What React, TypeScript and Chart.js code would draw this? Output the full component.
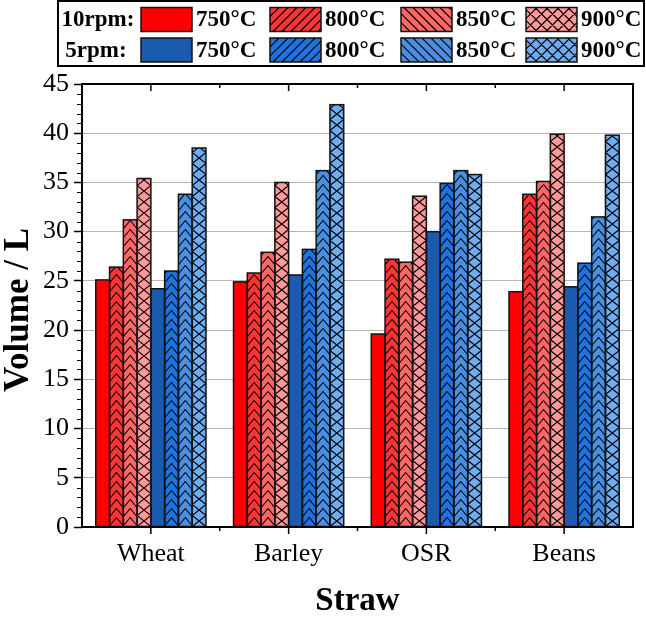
import React, { useEffect, useRef } from 'react';
import { Chart, registerables } from 'chart.js';

Chart.register(...registerables);

// Straw types on the x axis
const categories = ['Wheat', 'Barley', 'OSR', 'Beans'];

// Gas volume (L) at 10 rpm
const rpm10_750 = [25.1, 24.9, 19.6, 23.9];
const rpm10_800 = [26.4, 25.8, 27.2, 33.8];
const rpm10_850 = [31.2, 27.9, 26.9, 35.1];
const rpm10_900 = [35.4, 35.0, 33.6, 39.9];

// Gas volume (L) at 5 rpm
const rpm5_750 = [24.2, 25.6, 30.0, 24.4];
const rpm5_800 = [26.0, 28.2, 34.9, 26.8];
const rpm5_850 = [33.8, 36.2, 36.2, 31.5];
const rpm5_900 = [38.5, 42.9, 35.8, 39.8];

// Axis ticks and legend text
const yTickValues = [0, 5, 10, 15, 20, 25, 30, 35, 40, 45];
const temperatures = ['750°C', '800°C', '850°C', '900°C'];
const rowLabels = ['10rpm:', '5rpm:'];

const redColors = ['#FF0000', '#FF3535', '#FF6666', '#FF9999'];
const blueColors = ['#1A5BAF', '#1F73DE', '#4A8FE2', '#6EADF2'];
const barHatch = ['solid', 'chevron', 'chevron', 'cross'];
const swatchHatch = ['solid', 'fwd', 'back', 'cross'];

const SERIF = "'Liberation Serif', 'Times New Roman', serif";

function hatchBar(ctx: CanvasRenderingContext2D, kind: string, l: number, t: number, r: number, b: number) {
  if (kind === 'solid') return;
  const w = r - l;
  const cx = (l + r) / 2;
  ctx.save();
  ctx.beginPath();
  ctx.rect(l, t, w, b - t);
  ctx.clip();
  ctx.strokeStyle = '#000';
  ctx.lineWidth = 1.1;
  ctx.beginPath();
  if (kind === 'chevron') {
    const h = w * 0.6;
    const step = 9;
    for (let y = b; y > t - step; y -= step) {
      ctx.moveTo(l, y + h);
      ctx.lineTo(cx, y);
      ctx.lineTo(r, y + h);
    }
  } else if (kind === 'cross') {
    const p = 11;
    for (let y = b + p; y > t - p; y -= p) {
      ctx.moveTo(l, y);
      ctx.lineTo(r, y - p);
      ctx.moveTo(l, y - p);
      ctx.lineTo(r, y);
    }
  }
  ctx.stroke();
  ctx.restore();
}

function hatchSwatch(ctx: CanvasRenderingContext2D, kind: string, l: number, t: number, w: number, h: number) {
  if (kind === 'solid') return;
  ctx.save();
  ctx.beginPath();
  ctx.rect(l, t, w, h);
  ctx.clip();
  ctx.strokeStyle = '#000';
  ctx.lineWidth = 1.1;
  ctx.beginPath();
  const step = kind === 'cross' ? 11 : 9;
  for (let x = l - h - step; x < l + w + h; x += step) {
    if (kind === 'fwd' || kind === 'cross') {
      ctx.moveTo(x, t + h);
      ctx.lineTo(x + h, t);
    }
    if (kind === 'back' || kind === 'cross') {
      ctx.moveTo(x, t);
      ctx.lineTo(x + h, t + h);
    }
  }
  ctx.stroke();
  ctx.restore();
}

const decorPlugin = {
  id: 'decor',
  afterDatasetsDraw(chart: any) {
    const ctx: CanvasRenderingContext2D = chart.ctx;
    chart.data.datasets.forEach((ds: any, di: number) => {
      const meta = chart.getDatasetMeta(di);
      meta.data.forEach((el: any) => {
        const { x, y, base, width } = el.getProps(['x', 'y', 'base', 'width'], true);
        const l = x - width / 2;
        const r = x + width / 2;
        const t = Math.min(y, base);
        const b = Math.max(y, base);
        hatchBar(ctx, ds.hatchKind, l, t, r, b);
        ctx.save();
        ctx.strokeStyle = '#111';
        ctx.lineWidth = 1.5;
        ctx.strokeRect(l, t, r - l, b - t);
        ctx.restore();
      });
    });
  },
  afterDraw(chart: any) {
    const ctx: CanvasRenderingContext2D = chart.ctx;
    const area = chart.chartArea;
    const xs = chart.scales.x;
    const ys = chart.scales.y;
    ctx.save();

    // plot frame
    ctx.strokeStyle = '#000';
    ctx.lineWidth = 2;
    ctx.strokeRect(area.left, area.top, area.right - area.left, area.bottom - area.top);

    // minor y ticks
    ctx.lineWidth = 1;
    ctx.beginPath();
    for (let v = 1; v < 45; v++) {
      if (v % 5 === 0) continue;
      const py = Math.round(ys.getPixelForValue(v)) + 0.5;
      ctx.moveTo(area.left - 5, py);
      ctx.lineTo(area.left, py);
    }
    ctx.stroke();

    // x ticks at category centres and boundaries, top and bottom
    const centres = categories.map((_, i) => xs.getPixelForValue(i));
    const bounds: number[] = [];
    for (let i = 0; i < centres.length - 1; i++) bounds.push((centres[i] + centres[i + 1]) / 2);
    ctx.lineWidth = 1.5;
    ctx.beginPath();
    centres.forEach((cx) => {
      ctx.moveTo(cx, area.bottom);
      ctx.lineTo(cx, area.bottom + 7);
      ctx.moveTo(cx, area.top);
      ctx.lineTo(cx, area.top + 7);
    });
    bounds.forEach((bx) => {
      ctx.moveTo(bx, area.bottom);
      ctx.lineTo(bx, area.bottom + 4);
      ctx.moveTo(bx, area.top);
      ctx.lineTo(bx, area.top + 4);
    });
    ctx.stroke();

    // axis titles
    ctx.fillStyle = '#000';
    ctx.font = `bold 33px ${SERIF}`;
    ctx.textAlign = 'center';
    ctx.textBaseline = 'middle';
    ctx.fillText('Straw', (area.left + area.right) / 2, 601);
    ctx.save();
    ctx.translate(19, 310);
    ctx.rotate(-Math.PI / 2);
    ctx.font = `bold 35px ${SERIF}`;
    ctx.fillText('Volume / L', 0, 0);
    ctx.restore();

    // legend box
    ctx.lineWidth = 2;
    ctx.strokeStyle = '#000';
    ctx.strokeRect(58, 1, 586, 65);
    const swatchX = [141, 270, 401, 526];
    const rowTop = [7.5, 38];
    const rowColors = [redColors, blueColors];
    const labelCx = [98, 96];
    rowTop.forEach((rt, ri) => {
      const cy = rt + 12;
      ctx.fillStyle = '#000';
      ctx.textAlign = 'center';
      ctx.font = `bold 23px ${SERIF}`;
      ctx.fillText(rowLabels[ri], labelCx[ri], cy + 1);
      swatchX.forEach((sx, ci) => {
        ctx.fillStyle = rowColors[ri][ci];
        ctx.fillRect(sx, rt, 51, 24);
        hatchSwatch(ctx, swatchHatch[ci], sx, rt, 51, 24);
        ctx.lineWidth = 1.5;
        ctx.strokeStyle = '#111';
        ctx.strokeRect(sx, rt, 51, 24);
        ctx.fillStyle = '#000';
        ctx.textAlign = 'left';
        ctx.fillText(temperatures[ci], sx + 55, cy + 1);
      });
    });
    ctx.restore();
  },
};

export default function App() {
  const canvasRef = useRef<HTMLCanvasElement | null>(null);

  useEffect(() => {
    const canvas = canvasRef.current;
    if (!canvas) return;
    const series = [rpm10_750, rpm10_800, rpm10_850, rpm10_900, rpm5_750, rpm5_800, rpm5_850, rpm5_900];
    const datasets = series.map((data, i) => ({
      label: (i < 4 ? rowLabels[0] : rowLabels[1]) + ' ' + temperatures[i % 4],
      data,
      backgroundColor: i < 4 ? redColors[i % 4] : blueColors[i % 4],
      borderWidth: 0,
      hatchKind: barHatch[i % 4],
      categoryPercentage: 0.8,
      barPercentage: 1.0,
    }));

    const chart = new Chart(canvas, {
      type: 'bar',
      data: { labels: categories, datasets: datasets as any },
      options: {
        responsive: false,
        animation: false,
        devicePixelRatio: 1,
        layout: { padding: { left: 0, right: 13, top: 84, bottom: 0 } },
        plugins: {
          legend: { display: false },
          tooltip: { enabled: false },
          title: { display: false },
        },
        scales: {
          x: {
            grid: { display: false, drawTicks: false },
            border: { display: false },
            ticks: {
              color: '#000',
              font: { family: SERIF, size: 26 },
              padding: 12,
              maxRotation: 0,
            },
            afterFit: (scale: any) => {
              scale.height = 92;
            },
          },
          y: {
            min: 0,
            max: 45,
            afterBuildTicks: (scale: any) => {
              scale.ticks = yTickValues.map((v) => ({ value: v }));
            },
            grid: {
              color: (c: any) => (c.tick && (c.tick.value === 0 || c.tick.value === 45) ? 'rgba(0,0,0,0)' : '#b4b4b4'),
              lineWidth: 1,
              drawTicks: true,
              tickLength: 8,
              tickColor: '#000',
              tickWidth: 1.5,
            },
            border: { display: false },
            ticks: {
              color: '#000',
              font: { family: SERIF, size: 26 },
              padding: 5,
            },
            afterFit: (scale: any) => {
              scale.width = 82;
            },
          },
        },
      },
      plugins: [decorPlugin],
    });

    return () => {
      chart.destroy();
    };
  }, []);

  return (
    <div style={{ position: 'fixed', left: 0, top: 0, width: 646, height: 619, background: '#fff' }}>
      <canvas ref={canvasRef} width={646} height={619} style={{ display: 'block' }} />
    </div>
  );
}
